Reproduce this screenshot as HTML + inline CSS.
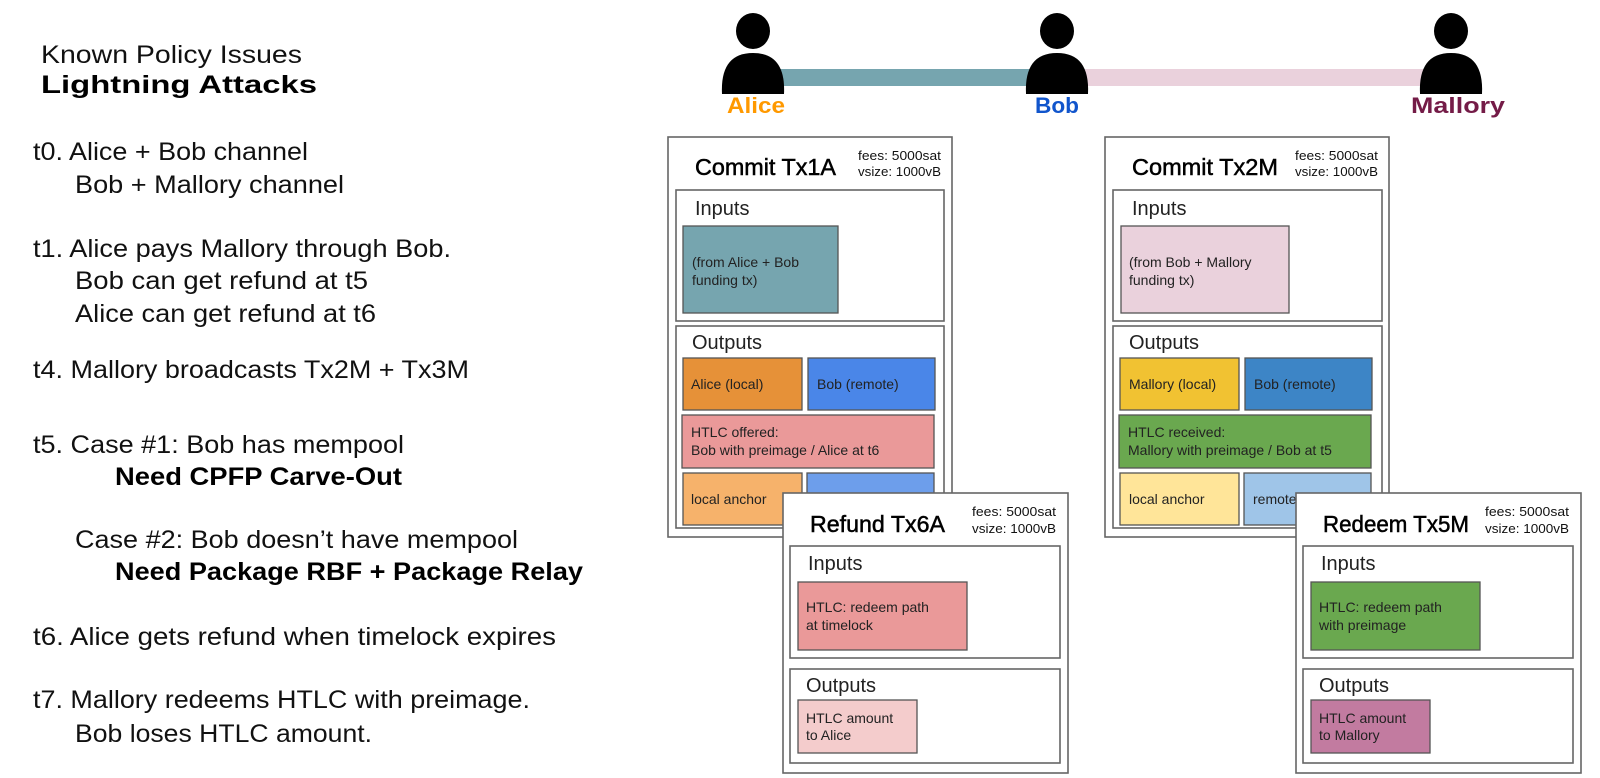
<!DOCTYPE html>
<html><head><meta charset="utf-8"><style>
html,body{margin:0;padding:0;background:#fff;}
svg{display:block;font-family:"Liberation Sans",sans-serif;}
.b{fill:none;stroke:#666;stroke-width:1.6}
.w{fill:#fff;stroke:#666;stroke-width:1.6}
.blk{stroke:#555;stroke-width:1.3}
.t{font-size:14px;fill:#222}
.h{font-size:20px;fill:#222}
.ti{font-size:23px;fill:#000;stroke:#000;stroke-width:0.5}
.f{font-size:12.5px;fill:#111}
.L{font-size:25px;fill:#111}
.LB{font-size:25px;font-weight:bold;fill:#000}
</style></head><body>
<svg width="1600" height="778" viewBox="0 0 1600 778">
<!-- Left text -->
<text class="L" x="41" y="63" textLength="261" lengthAdjust="spacingAndGlyphs">Known Policy Issues</text>
<text class="LB" x="41" y="93" font-size="28" textLength="276" lengthAdjust="spacingAndGlyphs">Lightning Attacks</text>
<text class="L" x="33" y="160" textLength="275" lengthAdjust="spacingAndGlyphs">t0. Alice + Bob channel</text>
<text class="L" x="75" y="193" textLength="269" lengthAdjust="spacingAndGlyphs">Bob + Mallory channel</text>
<text class="L" x="33" y="257" textLength="418" lengthAdjust="spacingAndGlyphs">t1. Alice pays Mallory through Bob.</text>
<text class="L" x="75" y="289" textLength="293" lengthAdjust="spacingAndGlyphs">Bob can get refund at t5</text>
<text class="L" x="75" y="322" textLength="301" lengthAdjust="spacingAndGlyphs">Alice can get refund at t6</text>
<text class="L" x="33" y="378" textLength="436" lengthAdjust="spacingAndGlyphs">t4. Mallory broadcasts Tx2M + Tx3M</text>
<text class="L" x="33" y="453" textLength="371" lengthAdjust="spacingAndGlyphs">t5. Case #1: Bob has mempool</text>
<text class="LB" x="115" y="485" textLength="287" lengthAdjust="spacingAndGlyphs">Need CPFP Carve-Out</text>
<text class="L" x="75" y="548" textLength="443" lengthAdjust="spacingAndGlyphs">Case #2: Bob doesn’t have mempool</text>
<text class="LB" x="115" y="580" textLength="468" lengthAdjust="spacingAndGlyphs">Need Package RBF + Package Relay</text>
<text class="L" x="33" y="645" textLength="523" lengthAdjust="spacingAndGlyphs">t6.  Alice gets refund when timelock expires</text>
<text class="L" x="33" y="708" textLength="497" lengthAdjust="spacingAndGlyphs">t7. Mallory redeems HTLC with preimage.</text>
<text class="L" x="75" y="742" textLength="297" lengthAdjust="spacingAndGlyphs">Bob loses HTLC amount.</text>

<!-- channel bars -->
<rect x="760" y="69" width="300" height="17" fill="#76a5af"/>
<rect x="1060" y="69" width="390" height="17" fill="#ead1dc"/>
<!-- people -->
<g fill="#000">
<ellipse cx="753" cy="31" rx="17" ry="18"/><path d="M722,94 Q720,53 753,53 Q786,53 784,94 Z"/>
<ellipse cx="1057" cy="31" rx="17" ry="18"/><path d="M1026,94 Q1024,53 1057,53 Q1090,53 1088,94 Z"/>
<ellipse cx="1451" cy="31" rx="17" ry="18"/><path d="M1420,94 Q1418,53 1451,53 Q1484,53 1482,94 Z"/>
</g>
<text x="756" y="113" text-anchor="middle" font-size="22" font-weight="bold" fill="#ff9900" textLength="58" lengthAdjust="spacingAndGlyphs">Alice</text>
<text x="1057" y="113" text-anchor="middle" font-size="22" font-weight="bold" fill="#1155cc" textLength="44" lengthAdjust="spacingAndGlyphs">Bob</text>
<text x="1458" y="113" text-anchor="middle" font-size="22" font-weight="bold" fill="#741b47" textLength="94" lengthAdjust="spacingAndGlyphs">Mallory</text>

<!-- Commit Tx1A -->
<g>
<rect class="w" x="668" y="137" width="284" height="400"/>
<text class="ti" x="695" y="175" textLength="141" lengthAdjust="spacingAndGlyphs">Commit Tx1A</text>
<text class="f" x="858" y="160" textLength="83" lengthAdjust="spacingAndGlyphs">fees: 5000sat</text>
<text class="f" x="858" y="176" textLength="83" lengthAdjust="spacingAndGlyphs">vsize: 1000vB</text>
<rect class="b" x="676" y="190" width="268" height="131"/>
<text class="h" x="695" y="215">Inputs</text>
<rect class="blk" x="683" y="226" width="155" height="87" fill="#76a5af"/>
<text class="t" x="692" y="267">(from Alice + Bob</text>
<text class="t" x="692" y="285">funding tx)</text>
<rect class="b" x="676" y="326" width="268" height="202"/>
<text class="h" x="692" y="349">Outputs</text>
<rect class="blk" x="683" y="358" width="119" height="52" fill="#e69138"/>
<text class="t" x="691" y="389">Alice (local)</text>
<rect class="blk" x="808" y="358" width="127" height="52" fill="#4a86e8"/>
<text class="t" x="817" y="389">Bob (remote)</text>
<rect class="blk" x="682" y="415" width="252" height="53" fill="#ea9999"/>
<text class="t" x="691" y="437">HTLC offered:</text>
<text class="t" x="691" y="455">Bob with preimage / Alice at t6</text>
<rect class="blk" x="683" y="473" width="119" height="52" fill="#f6b26b"/>
<text class="t" x="691" y="504">local anchor</text>
<rect class="blk" x="807" y="473" width="127" height="52" fill="#6d9eeb"/>
</g>

<!-- Commit Tx2M -->
<g>
<rect class="w" x="1105" y="137" width="284" height="400"/>
<text class="ti" x="1132" y="175" textLength="146" lengthAdjust="spacingAndGlyphs">Commit Tx2M</text>
<text class="f" x="1295" y="160" textLength="83" lengthAdjust="spacingAndGlyphs">fees: 5000sat</text>
<text class="f" x="1295" y="176" textLength="83" lengthAdjust="spacingAndGlyphs">vsize: 1000vB</text>
<rect class="b" x="1113" y="190" width="269" height="131"/>
<text class="h" x="1132" y="215">Inputs</text>
<rect class="blk" x="1121" y="226" width="168" height="87" fill="#ead1dc"/>
<text class="t" x="1129" y="267">(from Bob + Mallory</text>
<text class="t" x="1129" y="285">funding tx)</text>
<rect class="b" x="1113" y="326" width="269" height="202"/>
<text class="h" x="1129" y="349">Outputs</text>
<rect class="blk" x="1120" y="358" width="119" height="52" fill="#f1c232"/>
<text class="t" x="1129" y="389">Mallory (local)</text>
<rect class="blk" x="1245" y="358" width="127" height="52" fill="#3d85c6"/>
<text class="t" x="1254" y="389">Bob (remote)</text>
<rect class="blk" x="1119" y="415" width="252" height="53" fill="#6aa84f"/>
<text class="t" x="1128" y="437">HTLC received:</text>
<text class="t" x="1128" y="455">Mallory with preimage / Bob at t5</text>
<rect class="blk" x="1120" y="473" width="119" height="52" fill="#ffe599"/>
<text class="t" x="1129" y="504">local anchor</text>
<rect class="blk" x="1244" y="473" width="127" height="52" fill="#9fc5e8"/>
<text class="t" x="1253" y="504">remote</text>
</g>

<!-- Refund Tx6A -->
<g>
<rect class="w" x="783" y="493" width="285" height="280"/>
<text class="ti" x="810" y="532" textLength="135" lengthAdjust="spacingAndGlyphs">Refund Tx6A</text>
<text class="f" x="972" y="516" textLength="84" lengthAdjust="spacingAndGlyphs">fees: 5000sat</text>
<text class="f" x="972" y="533" textLength="84" lengthAdjust="spacingAndGlyphs">vsize: 1000vB</text>
<rect class="b" x="790" y="546" width="270" height="112"/>
<text class="h" x="808" y="570">Inputs</text>
<rect class="blk" x="798" y="582" width="169" height="68" fill="#ea9999"/>
<text class="t" x="806" y="612">HTLC: redeem path</text>
<text class="t" x="806" y="630">at timelock</text>
<rect class="b" x="790" y="669" width="270" height="94"/>
<text class="h" x="806" y="692">Outputs</text>
<rect class="blk" x="798" y="700" width="119" height="53" fill="#f4cccc"/>
<text class="t" x="806" y="723">HTLC amount</text>
<text class="t" x="806" y="740">to Alice</text>
</g>

<!-- Redeem Tx5M -->
<g>
<rect class="w" x="1296" y="493" width="285" height="280"/>
<text class="ti" x="1323" y="532" textLength="146" lengthAdjust="spacingAndGlyphs">Redeem Tx5M</text>
<text class="f" x="1485" y="516" textLength="84" lengthAdjust="spacingAndGlyphs">fees: 5000sat</text>
<text class="f" x="1485" y="533" textLength="84" lengthAdjust="spacingAndGlyphs">vsize: 1000vB</text>
<rect class="b" x="1303" y="546" width="270" height="112"/>
<text class="h" x="1321" y="570">Inputs</text>
<rect class="blk" x="1311" y="582" width="169" height="68" fill="#6aa84f"/>
<text class="t" x="1319" y="612">HTLC: redeem path</text>
<text class="t" x="1319" y="630">with preimage</text>
<rect class="b" x="1303" y="669" width="270" height="94"/>
<text class="h" x="1319" y="692">Outputs</text>
<rect class="blk" x="1311" y="700" width="119" height="53" fill="#c27ba0"/>
<text class="t" x="1319" y="723">HTLC amount</text>
<text class="t" x="1319" y="740">to Mallory</text>
</g>
</svg>
</body></html>
